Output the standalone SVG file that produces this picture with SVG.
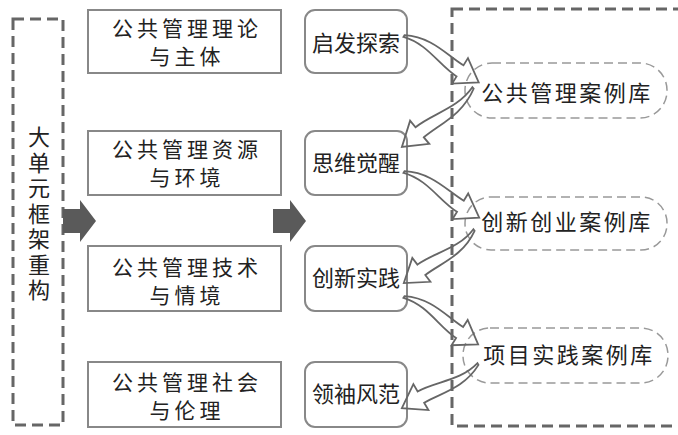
<svg xmlns="http://www.w3.org/2000/svg" xmlns:xlink="http://www.w3.org/1999/xlink" width="678" height="435" viewBox="0 0 678 435">
<style>
.t{font-family:"Noto Sans CJK SC","Noto Sans",sans-serif;font-size:22px;fill:#222;text-anchor:middle}
.t2{font-family:"Noto Sans CJK SC","Noto Sans",sans-serif;font-size:21px;fill:#222;text-anchor:middle;letter-spacing:4px}
.v{font-family:"Noto Sans CJK SC","Noto Sans",sans-serif;font-size:22px;fill:#222;writing-mode:vertical-rl;letter-spacing:3.5px}
.lb{fill:#fff;stroke:#888;stroke-width:2}
.mb{fill:#fff;stroke:#888;stroke-width:2}
.frame{fill:none;stroke:#666;stroke-width:3;stroke-dasharray:11 6}
.oval{fill:none;stroke:#999;stroke-width:1.5;stroke-dasharray:9 5}
.ca{fill:none;stroke:#666;stroke-width:1.8;stroke-linejoin:miter}
.ga{fill:#5a5a5a}
</style>
<defs>
<path id="carrow" d="M0,-1 C24,-14 46,-6.5 66,-6.5 L66,-15 L88,0 L66,15 L66,6.5 C46,6.5 24,-6 0,1 Z"/>
</defs>
<g id="frame-left">
<rect class="frame" x="13" y="19" width="50" height="406"/>
<text class="v" x="39" y="126">大单元框架重构</text>
</g>
<g id="frame-right">
<rect class="frame" x="452" y="9" width="250" height="417"/>
</g>
<g id="box-l1"><rect class="lb" x="88" y="10" width="193" height="63"/><text class="t2" x="187" y="36">公共管理理论</text><text class="t2" x="187" y="64">与主体</text></g>
<g id="box-l2"><rect class="lb" x="88" y="131" width="193" height="64"/><text class="t2" x="187" y="157">公共管理资源</text><text class="t2" x="187" y="185">与环境</text></g>
<g id="box-l3"><rect class="lb" x="88" y="246" width="193" height="65"/><text class="t2" x="187" y="275">公共管理技术</text><text class="t2" x="187" y="303">与情境</text></g>
<g id="box-l4"><rect class="lb" x="88" y="362" width="193" height="65"/><text class="t2" x="187" y="390">公共管理社会</text><text class="t2" x="187" y="418">与伦理</text></g>
<g id="box-m1"><rect class="mb" x="305" y="10" width="102" height="63" rx="10"/><text class="t" x="356" y="51">启发探索</text></g>
<g id="box-m2"><rect class="mb" x="305" y="131" width="102" height="64" rx="10"/><text class="t" x="356" y="171">思维觉醒</text></g>
<g id="box-m3"><rect class="mb" x="305" y="246" width="102" height="65" rx="10"/><text class="t" x="356" y="286">创新实践</text></g>
<g id="box-m4"><rect class="mb" x="305" y="362" width="102" height="65" rx="10"/><text class="t" x="356" y="402">领袖风范</text></g>
<g id="oval-1"><rect class="oval" x="465" y="63" width="202" height="55" rx="27"/><text class="t" x="567" y="101" letter-spacing="2.5">公共管理案例库</text></g>
<g id="oval-2"><rect class="oval" x="465" y="197" width="202" height="53" rx="26"/><text class="t" x="567" y="230" letter-spacing="2.5">创新创业案例库</text></g>
<g id="oval-3"><rect class="oval" x="463" y="328" width="205" height="55" rx="27"/><text class="t" x="569" y="363" letter-spacing="2.5">项目实践案例库</text></g>
<g id="connectors">
<path class="ga" d="M63,209 L80,209 L80,200 L96,221 L80,242 L80,233 L63,233 Z"/>
<path class="ga" d="M273,209 L290,209 L290,200 L306,221 L290,242 L290,233 L273,233 Z"/>
<use xlink:href="#carrow" class="ca" transform="translate(404,36) rotate(31.9)"/>
<use xlink:href="#carrow" class="ca" transform="translate(473,88) rotate(140.3) scale(1.05,1)"/>
<use xlink:href="#carrow" class="ca" transform="translate(404,172) rotate(31.3)"/>
<use xlink:href="#carrow" class="ca" transform="translate(474,230) rotate(142.9)"/>
<use xlink:href="#carrow" class="ca" transform="translate(404,297) rotate(32.6)"/>
<use xlink:href="#carrow" class="ca" transform="translate(478,364) rotate(149.9)"/>
</g>
</svg>
